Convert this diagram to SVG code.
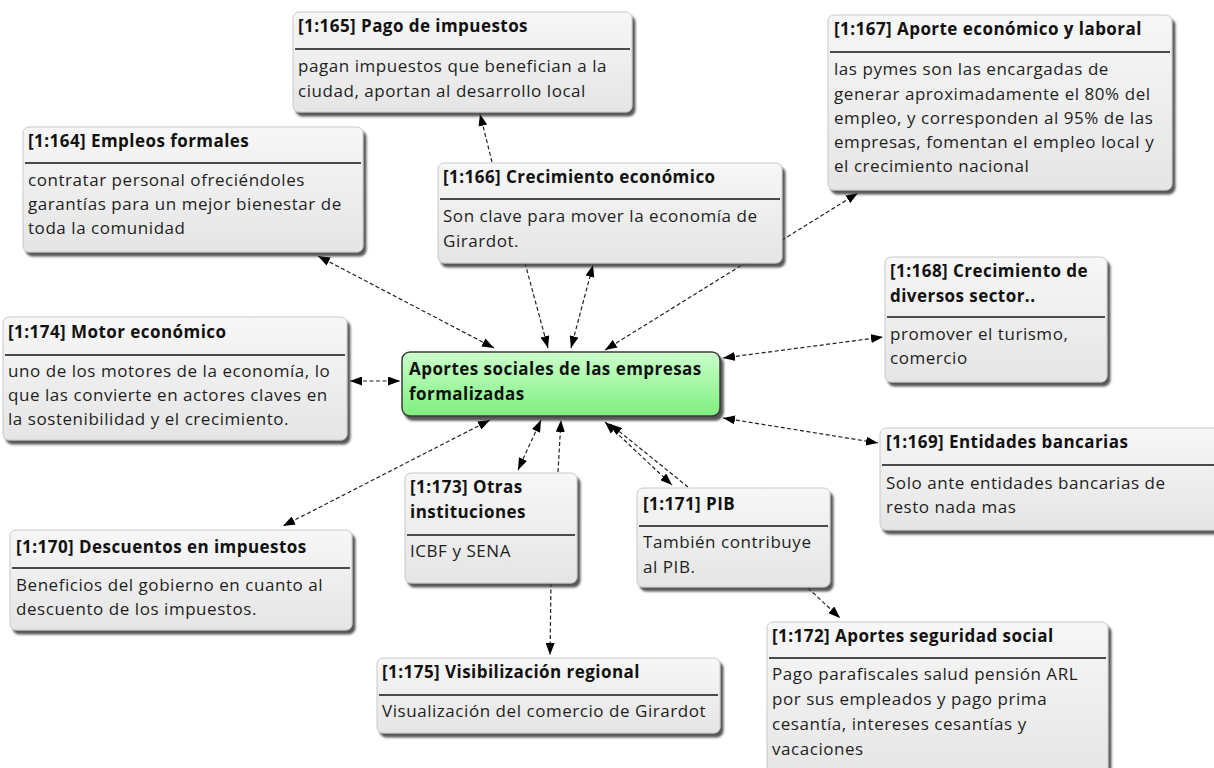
<svg xmlns="http://www.w3.org/2000/svg" width="1214" height="768" viewBox="0 0 1214 768">
<style>
.box{fill:url(#gbox);stroke:#c8c8c8;stroke-width:1;filter:url(#ds)}
.ctr{fill:url(#ggreen);stroke:#3a3a3a;stroke-width:1.5;filter:url(#ds)}
.sep{stroke:#4a4a4a;stroke-width:2}
.t{font-family:"Open Sans","Noto Sans",sans-serif;font-size:17px;font-weight:bold;fill:#111;letter-spacing:0.45px}
.b{font-family:"Open Sans","Noto Sans",sans-serif;font-size:17px;fill:#1e1e1e;letter-spacing:0.55px}
.c{fill:none;stroke:#222;stroke-width:1.2;stroke-dasharray:4 2.5}
.bi{marker-start:url(#ah);marker-end:url(#ah)}
.uni{marker-end:url(#ah)}
</style>
<defs>
<linearGradient id="gbox" x1="0" y1="0" x2="0" y2="1">
<stop offset="0" stop-color="#f7f7f7"/>
<stop offset="1" stop-color="#e5e5e5"/>
</linearGradient>
<linearGradient id="ggreen" x1="0" y1="0" x2="0" y2="1">
<stop offset="0" stop-color="#ccffcc"/>
<stop offset="1" stop-color="#7eee7e"/>
</linearGradient>
<filter id="ds" x="-10%" y="-10%" width="130%" height="140%">
<feDropShadow dx="3" dy="4" stdDeviation="1.2" flood-color="#3a3a3a" flood-opacity="0.85"/>
</filter>
<marker id="ah" viewBox="0 0 12 9" refX="12" refY="4.5" markerWidth="12" markerHeight="9" markerUnits="userSpaceOnUse" orient="auto-start-reverse">
<path d="M0,0 L12,4.5 L0,9 z" fill="#000"/>
</marker>
</defs>
<rect width="1214" height="768" fill="#fff"/>

<g id="connectors">
<line class="c bi" x1="318" y1="256" x2="494" y2="348"/>
<line class="c uni" x1="525" y1="263" x2="548" y2="348"/>
<line class="c bi" x1="571" y1="348" x2="593" y2="265"/>
<line class="c uni" x1="492" y1="162" x2="480" y2="114"/>
<line class="c bi" x1="605" y1="350" x2="858" y2="193"/>
<line class="c bi" x1="723" y1="358" x2="883" y2="337"/>
<line class="c bi" x1="723" y1="418" x2="878" y2="443"/>
<line class="c bi" x1="350" y1="381" x2="400" y2="381"/>
<line class="c bi" x1="490" y1="420" x2="283" y2="526"/>
<line class="c bi" x1="541" y1="420" x2="518" y2="470"/>
<line class="c uni" x1="558" y1="472" x2="561" y2="420"/>
<line class="c uni" x1="551" y1="583" x2="550" y2="655"/>
<line class="c bi" x1="605" y1="422" x2="672" y2="485"/>
<line class="c uni" x1="688" y1="487" x2="610" y2="424"/>
<line class="c uni" x1="808" y1="588" x2="840" y2="618"/>
</g>

<g id="n165">
<rect class="box" x="293" y="12" width="339" height="100" rx="6"/>
<line class="sep" x1="295" y1="49" x2="630" y2="49"/>
<text class="t" x="298" y="32">[1:165] Pago de impuestos</text>
<text class="b" x="298" y="72">pagan impuestos que benefician a la</text>
<text class="b" x="298" y="97">ciudad, aportan al desarrollo local</text>
</g>

<g id="n164">
<rect class="box" x="23" y="127" width="340" height="125" rx="6"/>
<line class="sep" x1="25" y1="163" x2="361" y2="163"/>
<text class="t" x="28" y="147">[1:164] Empleos formales</text>
<text class="b" x="28" y="186">contratar personal ofreciéndoles</text>
<text class="b" x="28" y="210">garantías para un mejor bienestar de</text>
<text class="b" x="28" y="234">toda la comunidad</text>
</g>

<g id="n166">
<rect class="box" x="438" y="163" width="344" height="100" rx="6"/>
<line class="sep" x1="440" y1="199" x2="780" y2="199"/>
<text class="t" x="443" y="183">[1:166] Crecimiento económico</text>
<text class="b" x="443" y="222">Son clave para mover la economía de</text>
<text class="b" x="443" y="247">Girardot.</text>
</g>

<g id="n167">
<rect class="box" x="828" y="15" width="344" height="175" rx="6"/>
<line class="sep" x1="830" y1="52" x2="1170" y2="52"/>
<text class="t" x="834" y="35">[1:167] Aporte económico y laboral</text>
<text class="b" x="834" y="75">las pymes son las encargadas de</text>
<text class="b" x="834" y="100">generar aproximadamente el 80% del</text>
<text class="b" x="834" y="124">empleo, y corresponden al 95% de las</text>
<text class="b" x="834" y="148">empresas, fomentan el empleo local y</text>
<text class="b" x="834" y="172">el crecimiento nacional</text>
</g>

<g id="n168">
<rect class="box" x="885" y="257" width="222" height="125" rx="6"/>
<line class="sep" x1="887" y1="317" x2="1105" y2="317"/>
<text class="t" x="890" y="277">[1:168] Crecimiento de</text>
<text class="t" x="890" y="302">diversos sector..</text>
<text class="b" x="890" y="340">promover el turismo,</text>
<text class="b" x="890" y="364">comercio</text>
</g>

<g id="n174">
<rect class="box" x="3" y="317" width="344" height="123" rx="6"/>
<line class="sep" x1="5" y1="355" x2="345" y2="355"/>
<text class="t" x="8" y="338">[1:174] Motor económico</text>
<text class="b" x="8" y="377">uno de los motores de la economía, lo</text>
<text class="b" x="8" y="401">que las convierte en actores claves en</text>
<text class="b" x="8" y="425">la sostenibilidad y el crecimiento.</text>
</g>

<g id="center">
<rect class="ctr" x="402" y="352" width="318" height="64" rx="8"/>
<text class="t" x="409" y="375">Aportes sociales de las empresas</text>
<text class="t" x="409" y="400">formalizadas</text>
</g>

<g id="n169">
<rect class="box" x="880" y="428" width="345" height="102" rx="6"/>
<line class="sep" x1="882" y1="465" x2="1214" y2="465"/>
<text class="t" x="886" y="448">[1:169] Entidades bancarias</text>
<text class="b" x="886" y="489">Solo ante entidades bancarias de</text>
<text class="b" x="886" y="513">resto nada mas</text>
</g>

<g id="n170">
<rect class="box" x="10" y="530" width="342" height="100" rx="6"/>
<line class="sep" x1="12" y1="568" x2="350" y2="568"/>
<text class="t" x="16" y="553">[1:170] Descuentos en impuestos</text>
<text class="b" x="16" y="591">Beneficios del gobierno en cuanto al</text>
<text class="b" x="16" y="615">descuento de los impuestos.</text>
</g>

<g id="n173">
<rect class="box" x="405" y="473" width="172" height="110" rx="6"/>
<line class="sep" x1="407" y1="535" x2="575" y2="535"/>
<text class="t" x="410" y="493">[1:173] Otras</text>
<text class="t" x="410" y="518">instituciones</text>
<text class="b" x="410" y="557">ICBF y SENA</text>
</g>

<g id="n171">
<rect class="box" x="637" y="488" width="193" height="99" rx="6"/>
<line class="sep" x1="639" y1="526" x2="828" y2="526"/>
<text class="t" x="643" y="510">[1:171] PIB</text>
<text class="b" x="643" y="548">También contribuye</text>
<text class="b" x="643" y="573">al PIB.</text>
</g>

<g id="n172">
<rect class="box" x="767" y="622" width="341" height="160" rx="6"/>
<line class="sep" x1="769" y1="658" x2="1106" y2="658"/>
<text class="t" x="772" y="642">[1:172] Aportes seguridad social</text>
<text class="b" x="772" y="680">Pago parafiscales salud pensión ARL</text>
<text class="b" x="772" y="705">por sus empleados y pago prima</text>
<text class="b" x="772" y="730">cesantía, intereses cesantías y</text>
<text class="b" x="772" y="755">vacaciones</text>
</g>

<g id="n175">
<rect class="box" x="377" y="658" width="343" height="75" rx="6"/>
<line class="sep" x1="379" y1="695" x2="718" y2="695"/>
<text class="t" x="382" y="678">[1:175] Visibilización regional</text>
<text class="b" x="382" y="717">Visualización del comercio de Girardot</text>
</g>
</svg>
